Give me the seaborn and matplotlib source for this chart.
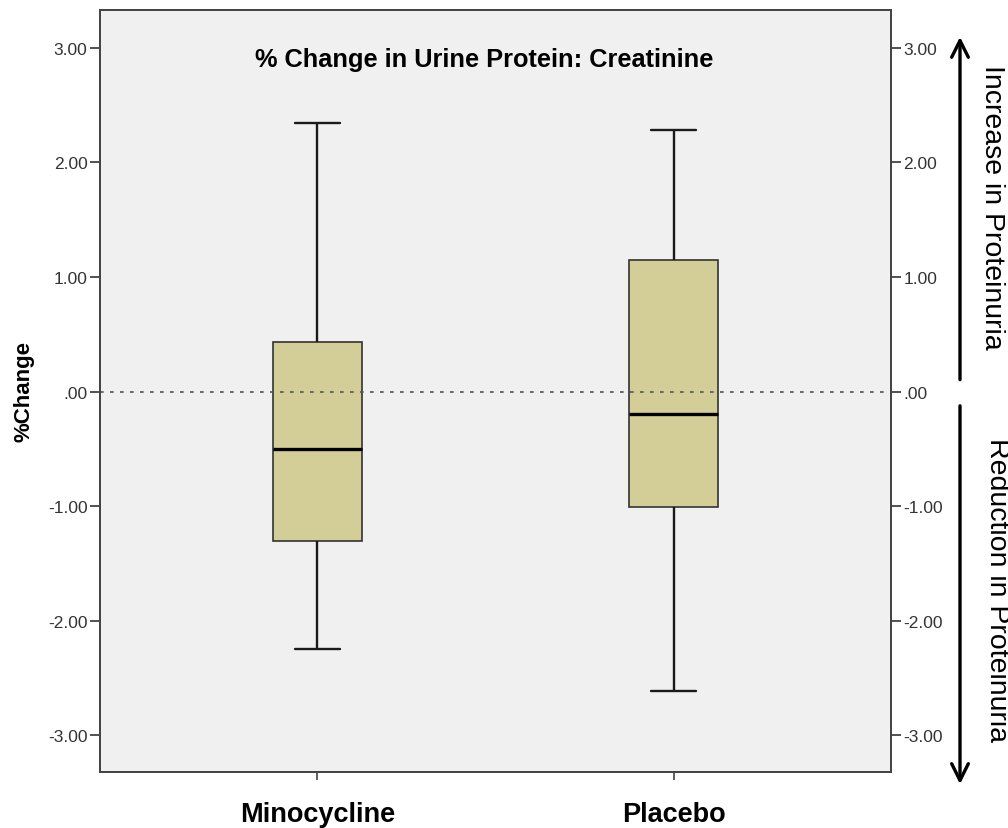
import pandas as pd
import numpy as np
import seaborn as sns
import matplotlib.pyplot as plt

# Five-number summaries (min, Q1, median, Q3, max)
groups = ['Minocycline', 'Placebo']
minocycline = [-2.25, -1.30, -0.50, 0.43, 2.34]
placebo = [-2.61, -1.01, -0.20, 1.15, 2.28]
yticks = [-3, -2, -1, 0, 1, 2, 3]
ytick_labels = ['-3.00', '-2.00', '-1.00', '.00', '1.00', '2.00', '3.00']

df = pd.DataFrame({
    'group': [groups[0]] * len(minocycline) + [groups[1]] * len(placebo),
    'change': minocycline + placebo,
})

sns.set_style("ticks")
plt.rcParams['font.family'] = ['Liberation Sans', 'DejaVu Sans']
plt.rcParams['text.color'] = 'black'

fig = plt.figure(figsize=(10.08, 8.29), dpi=100)
ax = fig.add_axes([100 / 1008, 1 - 773 / 829, 791 / 1008, 762 / 829])
ax.set_facecolor('#f0f0f0')

sns.boxplot(data=df, x='group', y='change', whis=(0, 100), width=0.25,
            color='#d3ce97', saturation=1, ax=ax,
            boxprops=dict(edgecolor='#333333', linewidth=1.2),
            whiskerprops=dict(color='#1a1a1a', linewidth=1.7),
            capprops=dict(color='#1a1a1a', linewidth=1.7),
            medianprops=dict(color='black', linewidth=2.4))

ax.axhline(0, color='#555555', lw=1.2, ls=(0, (2.2, 3.8)), zorder=5)

ax.set_xlim(-0.61, 1.61)
ax.set_ylim(-3.32, 3.33)
ax.set_yticks(yticks)
ax.set_yticklabels(ytick_labels)
ax.set_xlabel('')
ax.set_ylabel('%Change', fontsize=16, fontweight='bold', color='black')
ax.yaxis.set_label_coords(-0.083, 0.5)

ax.tick_params(axis='y', length=7, width=1.2, colors='#333333', labelsize=12.5, pad=2)
ax.tick_params(axis='x', length=6, width=1.2, colors='#444444', labelsize=19.5,
               labelcolor='black', pad=15)
for lab in ax.get_xticklabels():
    lab.set_fontweight('bold')

for sp in ax.spines.values():
    sp.set_visible(True)
    sp.set_color('#444444')
    sp.set_linewidth(1.3)

# mirrored y axis on the right
ax2 = ax.twinx()
ax2.set_ylim(ax.get_ylim())
ax2.set_yticks(yticks)
ax2.set_yticklabels(ytick_labels)
ax2.tick_params(axis='y', length=7, width=1.2, colors='#333333', labelsize=12.5, pad=2)
for sp in ax2.spines.values():
    sp.set_color('#444444')
    sp.set_linewidth(1.3)

ax.text(0.486, 0.936, '% Change in Urine Protein: Creatinine', transform=ax.transAxes,
        ha='center', va='center', fontsize=18.3, fontweight='bold', color='black', zorder=6)

# direction arrows and notes on the right
arrow_x = 960 / 1008
ax.annotate('', xy=(arrow_x, 3.12), xytext=(arrow_x, 0.08),
            xycoords=('figure fraction', 'data'), textcoords=('figure fraction', 'data'),
            arrowprops=dict(arrowstyle='->', lw=2.4, color='black', mutation_scale=30),
            annotation_clip=False)
ax.annotate('', xy=(arrow_x, -3.45), xytext=(arrow_x, -0.10),
            xycoords=('figure fraction', 'data'), textcoords=('figure fraction', 'data'),
            arrowprops=dict(arrowstyle='->', lw=2.4, color='black', mutation_scale=30),
            annotation_clip=False)
fig.text(992 / 1008, 1 - 207 / 829, 'Increase in Proteinuria', rotation=-90,
         ha='center', va='center', fontsize=20.5, color='black')
fig.text(997 / 1008, 1 - 590 / 829, 'Reduction in Proteinuria', rotation=-90,
         ha='center', va='center', fontsize=20.5, color='black')

fig.savefig('out.png', dpi=100)
